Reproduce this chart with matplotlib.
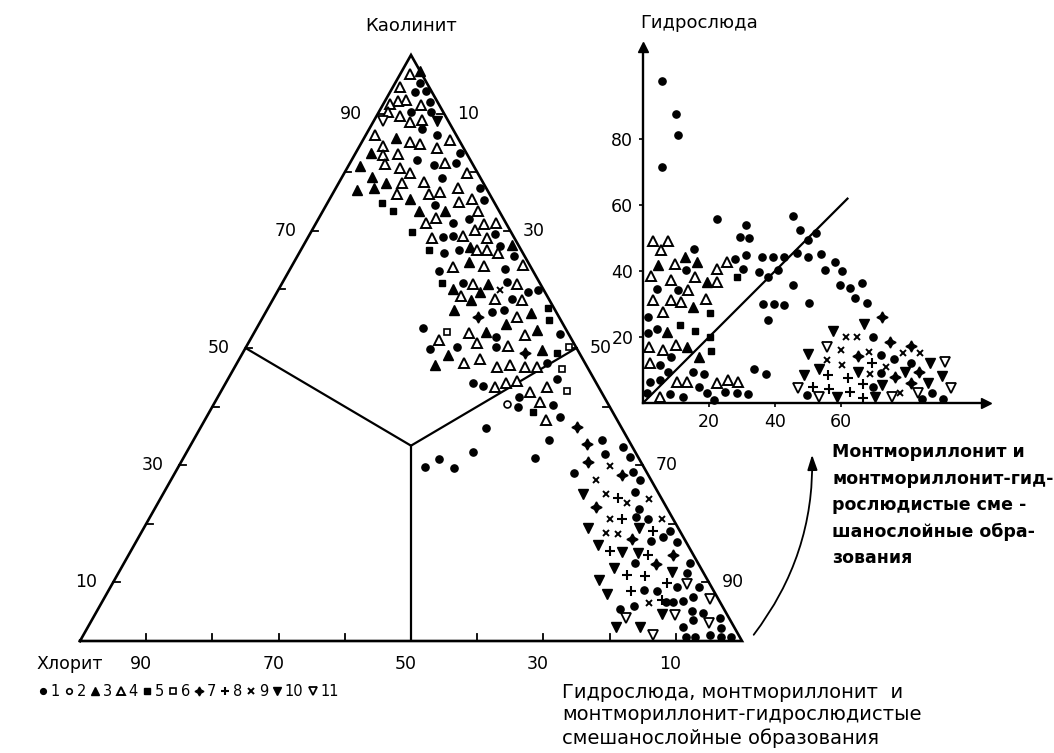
import matplotlib.pyplot as plt
from matplotlib.lines import Line2D
from matplotlib.patches import FancyArrowPatch
import numpy as np

plt.rcParams['font.family'] = ['DejaVu Sans']

# ternary points: (kaolinite %, hydromica+montmorillonite %), chlorite = rest
tern_1 = [(95.3, 3.7), (93.7, 3.7), (93.9, 5.3), (91.9, 6.9), (90.3, 4.9), (90.3, 7.8), (87.3, 8.0),
          (86.3, 10.8), (82.1, 9.8), (81.2, 12.8), (81.5, 16.1), (83.3, 15.7), (79.0, 15.2), (77.3, 21.8),
          (75.3, 23.4), (74.4, 16.4), (71.3, 20.7), (72.0, 22.7), (69.5, 28.0), (69.0, 20.3), (69.1, 21.8),
          (67.4, 29.7), (66.2, 21.9), (66.8, 23.9), (65.7, 32.7), (63.2, 22.7), (63.4, 32.5), (61.1, 27.3),
          (61.3, 33.8), (59.6, 37.9), (59.9, 39.3), (58.3, 36.1), (56.2, 34.1), (56.5, 35.8), (53.4, 25.1),
          (51.9, 36.9), (52.4, 46.3), (49.8, 28.0), (50.2, 31.8), (50.2, 37.7), (47.4, 46.8), (44.0, 37.4),
          (43.5, 39.2), (44.7, 49.7), (41.7, 45.4), (40.0, 46.2), (40.3, 51.3), (38.2, 53.4), (36.3, 43.2),
          (34.3, 53.7), (32.2, 43.2), (31.1, 38.7), (29.7, 37.2), (29.5, 41.7), (31.3, 53.1), (34.3, 61.7),
          (33.1, 65.5), (31.9, 63.4), (31.4, 67.4), (28.9, 69.1), (28.7, 60.2), (27.5, 70.9), (25.5, 71.1),
          (22.6, 73.2), (21.1, 73.4), (20.9, 75.4), (18.7, 79.7), (17.1, 77.7), (17.8, 79.1), (16.9, 81.7),
          (13.3, 77.2), (13.3, 85.5), (11.6, 85.9), (9.2, 85.6), (9.3, 88.8), (8.7, 80.8), (8.6, 82.8),
          (6.7, 85.2), (6.7, 86.3), (6.9, 87.6), (7.5, 88.9), (5.4, 78.8), (5.9, 80.7), (5.2, 89.8),
          (4.7, 91.8), (3.9, 94.7), (3.5, 90.9), (2.4, 89.9), (2.2, 95.8), (0.6, 91.3), (0.6, 92.6),
          (1.0, 94.7), (0.6, 96.6), (0.6, 98.1)]
tern_2 = [(40.4, 44.3)]
tern_3 = [(97.2, 2.7), (85.8, 4.9), (83.2, 2.4), (81.1, 1.8), (79.2, 4.5), (78.2, 7.1), (77.3, 5.7),
          (77.0, 3.3), (75.5, 12.1), (73.3, 14.5), (73.3, 18.5), (67.6, 31.4), (67.2, 25.3), (64.6, 26.5),
          (61.0, 31.2), (60.0, 26.3), (58.2, 29.9), (59.6, 30.6), (56.5, 28.3), (56.0, 40.2), (54.1, 37.3),
          (52.8, 34.9), (53.1, 42.5), (48.8, 31.2), (49.7, 44.9), (47.1, 30.1)]
tern_4 = [(96.8, 1.5), (94.6, 1.0), (92.4, 3.1), (92.2, 2.0), (91.6, 1.0), (91.5, 5.7), (90.3, 1.4),
          (89.6, 3.5), (88.6, 5.5), (88.9, 7.2), (86.3, 1.4), (85.2, 7.2), (84.8, 9.0), (85.5, 13.1),
          (84.4, 3.6), (84.1, 11.9), (82.9, 4.3), (83.1, 6.5), (81.5, 14.4), (81.4, 5.4), (80.7, 8.0),
          (79.8, 9.9), (79.8, 18.5), (78.2, 9.5), (78.4, 12.8), (77.3, 18.5), (76.7, 16.0), (76.3, 14.6),
          (76.3, 9.8), (75.0, 19.8), (75.5, 21.4), (73.3, 23.5), (72.1, 17.8), (71.4, 16.6), (71.2, 25.5),
          (71.3, 27.2), (70.1, 24.6), (68.7, 18.8), (69.1, 23.3), (68.7, 27.1), (66.8, 26.5), (66.7, 28.1),
          (66.2, 30.1), (63.8, 24.4), (64.0, 29.0), (64.2, 34.8), (61.0, 28.8), (60.9, 35.6), (58.8, 28.1),
          (58.3, 33.5), (58.2, 37.6), (55.3, 38.4), (52.6, 32.4), (52.2, 41.1), (51.4, 28.6), (50.8, 34.5),
          (50.3, 39.5), (47.5, 34.2), (48.1, 36.3), (46.7, 39.6), (47.1, 41.4), (46.7, 43.9), (46.7, 45.7),
          (43.4, 41.0), (44.1, 42.3), (44.3, 43.8), (43.4, 48.8), (42.5, 46.7), (40.8, 49.1), (37.7, 51.5)]
tern_5 = [(74.8, 8.2), (73.4, 10.6), (69.8, 15.3), (66.7, 19.3), (61.1, 24.2), (56.9, 42.3), (54.8, 43.4),
          (49.2, 47.4), (39.0, 48.9)]
tern_6 = [(52.8, 29.0), (50.2, 48.7), (46.4, 49.6), (42.7, 52.2)]
tern_7 = [(55.3, 32.5), (49.1, 42.7), (36.5, 56.8), (33.7, 59.7), (30.6, 61.5), (28.3, 67.7), (22.9, 66.5),
          (17.4, 74.7), (14.7, 82.2), (13.1, 80.4)]
tern_8 = [(24.4, 69.0), (20.8, 71.4), (18.8, 77.1), (15.4, 72.3), (14.7, 78.5), (11.3, 77.0), (11.1, 79.8),
          (9.9, 83.7), (8.6, 78.9), (7.0, 84.4)]
tern_9 = [(59.9, 33.5), (29.9, 65.1), (27.4, 64.3), (25.1, 66.9), (23.6, 70.9), (24.2, 73.9), (20.8, 69.7),
          (20.9, 77.4), (18.4, 70.3), (18.3, 72.1), (6.4, 82.8)]
tern_10 = [(88.8, 9.6), (25.1, 63.4), (19.2, 67.2), (19.2, 74.9), (16.4, 70.0), (15.2, 74.2), (15.1, 76.8),
           (12.4, 74.4), (11.8, 83.6), (10.4, 73.2), (8.0, 75.6), (4.6, 85.6), (2.4, 79.7), (2.4, 83.4)]
tern_11 = [(88.8, 1.4), (9.7, 86.8), (7.1, 91.6), (4.4, 87.7), (3.9, 80.5), (3.1, 93.5), (1.0, 86.1)]

# inset: (montmorillonite %, hydromica %)
ins_1 = [(22.3, 55.7), (31.1, 53.9), (29.4, 50.4), (32.2, 50.2), (45.6, 56.7), (47.6, 52.4), (50.1, 49.6),
         (52.4, 51.6), (15.6, 46.6), (27.9, 43.8), (31.1, 44.8), (36.0, 44.3), (39.3, 44.3), (42.8, 44.3),
         (46.6, 45.4), (50.1, 44.3), (54.1, 45.1), (58.2, 42.8), (60.2, 40.1), (35.3, 39.8), (30.4, 40.8),
         (38.0, 38.1), (41.0, 40.3), (55.2, 40.5), (59.7, 35.8), (62.7, 34.9), (66.3, 36.3), (64.2, 32.0),
         (67.8, 30.2), (45.6, 35.8), (36.5, 30.0), (39.7, 30.0), (42.8, 29.7), (50.4, 30.4), (38.0, 25.2),
         (13.0, 40.3), (4.3, 34.7), (10.5, 34.4), (1.4, 26.0), (1.4, 21.3), (4.1, 22.6), (8.4, 14.0),
         (5.2, 11.5), (2.1, 6.5), (5.2, 7.0), (7.7, 9.5), (15.1, 9.5), (18.5, 8.8), (17.1, 4.9), (19.3, 3.1),
         (1.1, 3.1), (8.2, 2.6), (12.0, 1.9), (21.5, 0.9), (24.8, 3.4), (28.6, 3.1), (31.9, 2.6),
         (33.6, 10.2), (37.3, 8.8), (49.6, 2.4), (69.8, 20.1), (72.1, 14.5), (76.1, 13.2), (72.3, 9.0),
         (69.8, 4.9), (81.4, 12.0), (84.7, 1.1), (87.5, 2.9), (91.0, 1.1),
         (5.7, 97.6), (10.0, 87.8), (10.5, 81.4), (5.7, 71.6)]
ins_3 = [(4.6, 41.8), (12.7, 44.3), (16.3, 42.8), (19.3, 36.8), (15.1, 29.2), (7.2, 21.6), (13.4, 17.1),
         (17.0, 14.0)]
ins_4 = [(2.9, 49.2), (7.7, 49.2), (5.5, 46.4), (9.7, 42.1), (2.4, 38.5), (8.4, 37.3), (13.7, 34.4),
         (15.8, 38.1), (2.9, 31.2), (8.4, 31.2), (11.4, 30.7), (6.2, 27.7), (19.1, 31.4), (22.3, 40.8),
         (25.4, 42.8), (22.3, 36.8), (1.9, 17.1), (6.2, 16.1), (10.0, 17.6), (2.1, 12.0), (10.2, 6.5),
         (13.2, 6.5), (22.3, 6.0), (25.7, 7.0), (28.7, 6.5), (5.2, 1.7)]
ins_5 = [(28.4, 38.1), (20.3, 27.4), (11.2, 23.6), (15.8, 21.8), (20.3, 20.1), (20.6, 15.9)]
ins_7 = [(72.6, 26.2), (74.8, 18.6), (81.4, 17.3), (65.3, 14.2), (76.4, 8.0), (83.7, 9.5), (81.4, 6.2)]
ins_8 = [(69.3, 12.2), (56.2, 8.5), (62.2, 7.5), (66.8, 5.8), (51.6, 4.9), (56.5, 4.1), (62.9, 3.4),
         (66.8, 1.4)]
ins_9 = [(61.7, 20.1), (64.9, 20.1), (59.9, 16.1), (68.6, 15.6), (55.9, 13.0), (60.2, 11.5), (68.8, 8.7),
         (73.8, 11.0), (78.7, 15.1), (84.1, 15.1), (77.9, 3.1)]
ins_10 = [(57.7, 21.9), (67.1, 23.9), (50.1, 14.8), (48.8, 8.5), (53.4, 10.2), (65.3, 9.5), (72.6, 5.5),
          (70.3, 1.9), (58.9, 1.7), (79.4, 9.5), (87.0, 12.0), (90.8, 8.2), (86.5, 6.2)]
ins_11 = [(55.9, 17.1), (47.1, 4.7), (53.4, 1.7), (75.4, 1.9), (83.4, 3.1), (91.5, 12.5), (93.5, 4.7)]

edge_ticks = [10, 20, 30, 40, 50, 60, 70, 80, 90]
label_ticks = [10, 30, 50, 70, 90]
inset_xticks = [20, 40, 60]
inset_yticks = [20, 40, 60, 80]

styles = {
    1: dict(marker='o', ms=5.2, mfc='k', mec='k'),
    2: dict(marker='o', ms=5, mfc='white', mec='k', mew=1.2),
    3: dict(marker='^', ms=6.5, mfc='k', mec='k'),
    4: dict(marker='^', ms=6.5, mfc='white', mec='k', mew=1.4),
    5: dict(marker='s', ms=5, mfc='k', mec='k'),
    6: dict(marker='s', ms=5, mfc='white', mec='k', mew=1.2),
    7: dict(marker=(4, 1, 0), ms=8, mfc='k', mec='k'),
    8: dict(marker='+', ms=6.5, mec='k', mew=1.5),
    9: dict(marker='x', ms=5, mec='k', mew=1.4),
    10: dict(marker='v', ms=6.5, mfc='k', mec='k'),
    11: dict(marker='v', ms=6.5, mfc='white', mec='k', mew=1.3),
}


def to_xy(pts):
    a = np.array(pts)
    k, h = a[:, 0], a[:, 1]
    return h + k / 2, k


W, H = 1054, 753
fig = plt.figure(figsize=(W / 100, H / 100), dpi=100)

# ---------------- ternary diagram
ax = fig.add_axes([80 / W, 1 - 641 / H, 662 / W, 586 / H])
ax.set_xlim(0, 100)
ax.set_ylim(0, 100)
ax.axis('off')

ax.plot([0, 100, 50, 0], [0, 0, 100, 0], color='k', lw=1.9, solid_joinstyle='miter', clip_on=False)
cx, cy = 100 / 3 + 100 / 6, 100 / 3
ax.plot([25, cx], [50, cy], color='k', lw=1.6)
ax.plot([75, cx], [50, cy], color='k', lw=1.6)
ax.plot([50, cx], [0, cy], color='k', lw=1.6)

for t in edge_ticks:
    ax.plot([t / 2, t / 2 + 1.0], [t, t], color='k', lw=1.3)
    ax.plot([100 - t / 2, 100 - t / 2 - 1.0], [t, t], color='k', lw=1.3)
    ax.plot([t, t], [0, 1.2], color='k', lw=1.3)

for t in label_ticks:
    # kaolinite on the left edge
    ax.text(t / 2 - 4, t, str(t), ha='center', va='center', fontsize=12.5)
    # hydromica on the right edge
    ax.text(t + (100 - t) / 2 + 3.6, 100 - t, str(t), ha='center', va='center', fontsize=12.5)
    # chlorite on the base
    ax.text(100 - t - 0.8, -4, str(t), ha='center', va='center', fontsize=12.5)

ax.text(50, 105, 'Каолинит', ha='center', va='center', fontsize=13)
ax.text(-1.5, -4, 'Хлорит', ha='center', va='center', fontsize=12.5)

tern_sets = [tern_1, tern_2, tern_3, tern_4, tern_5, tern_6, tern_7, tern_8, tern_9, tern_10, tern_11]
for i, pts in enumerate(tern_sets, start=1):
    x, y = to_xy(pts)
    ax.plot(x, y, ls='none', clip_on=False, zorder=3, **styles[i])

# ---------------- inset scatter
ax2 = fig.add_axes([643 / W, 1 - 403 / H, 343 / W, 356 / H])
ax2.set_xlim(0, 104)
ax2.set_ylim(0, 108)
ax2.patch.set_alpha(0)
for s in ['top', 'right']:
    ax2.spines[s].set_visible(False)
for s in ['left', 'bottom']:
    ax2.spines[s].set_linewidth(1.7)
ax2.plot(1, 0, '>', color='k', ms=7, transform=ax2.transAxes, clip_on=False)
ax2.plot(0, 1, '^', color='k', ms=7, transform=ax2.transAxes, clip_on=False)
ax2.set_xticks(inset_xticks)
ax2.set_yticks(inset_yticks)
ax2.tick_params(direction='out', length=3, width=1.2, labelsize=12.5, pad=4)
ax2.plot([0, 62], [0, 62], color='k', lw=1.6)

ins_sets = {1: ins_1, 3: ins_3, 4: ins_4, 5: ins_5, 7: ins_7, 8: ins_8, 9: ins_9, 10: ins_10, 11: ins_11}
for i, pts in ins_sets.items():
    a = np.array(pts)
    ax2.plot(a[:, 0], a[:, 1], ls='none', clip_on=False, zorder=3, **styles[i])

fig.text(640 / W, 1 - 23 / H, 'Гидрослюда', ha='left', va='center', fontsize=13)

# ---------------- legend row
handles = [Line2D([], [], ls='none', **{**styles[i], 'ms': styles[i]['ms'] * 0.8}) for i in range(1, 12)]
fig.legend(handles, [str(i) for i in range(1, 12)], loc='center left',
           bbox_to_anchor=(38 / W, 1 - 692 / H), ncol=11, frameon=False, fontsize=10.5,
           handlelength=0.7, handletextpad=0.15, columnspacing=0.3, borderpad=0, borderaxespad=0)

# ---------------- captions
bottom_lines = ['Гидрослюда, монтмориллонит  и', 'монтмориллонит-гидрослюдистые', 'смешанослойные образования']
for j, line in enumerate(bottom_lines):
    fig.text(562 / W, 1 - (692 + 23 * j) / H, line, ha='left', va='center', fontsize=14)

right_lines = ['Монтмориллонит и', 'монтмориллонит-гид-', 'рослюдистые сме -', 'шанослойные обра-', 'зования']
for j, line in enumerate(right_lines):
    fig.text(832 / W, 1 - (452 + 26.5 * j) / H, line, ha='left', va='center', fontsize=12.5,
             fontweight='bold')

fig.patches.append(FancyArrowPatch(
    (752 / W, 1 - 637 / H), (812 / W, 1 - 452 / H), transform=fig.transFigure,
    connectionstyle='arc3,rad=0.18', arrowstyle='-|>,head_length=9,head_width=3',
    color='k', lw=1.3, mutation_scale=1))

fig.savefig('out.png', dpi=100)
